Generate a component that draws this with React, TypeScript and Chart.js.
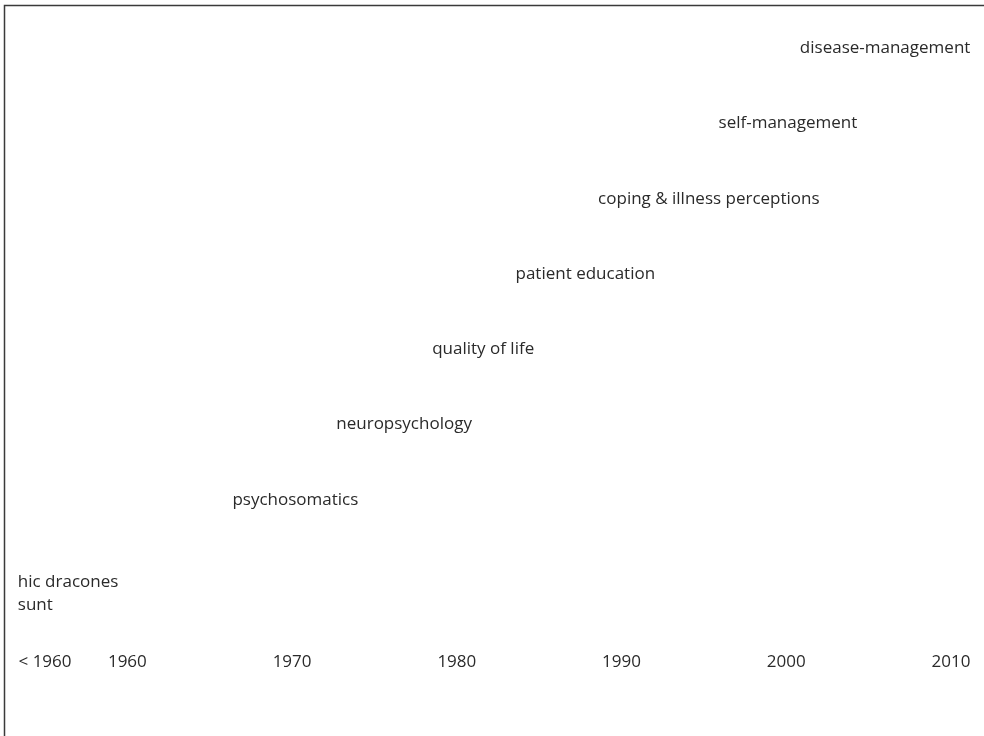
import React, { useEffect, useRef } from "react";
import { Chart, registerables } from "chart.js";

Chart.register(...registerables);

// Timeline topics (text), their approximate year (x) and level (y)
const topics: string[][] = [
  ["hic dracones", "sunt"],
  ["psychosomatics"],
  ["neuropsychology"],
  ["quality of life"],
  ["patient education"],
  ["coping & illness perceptions"],
  ["self-management"],
  ["disease-management"],
];
const topicYears: number[] = [1956.4, 1970.2, 1976.8, 1981.6, 1987.8, 1995.3, 2000.1, 2006];
const topicLevels: number[] = [-0.25, 1, 2, 3, 4, 5, 6, 7];

// x-axis tick positions and labels
const tickYears: number[] = [1955, 1960, 1970, 1980, 1990, 2000, 2010];
const tickLabels: string[] = ["< 1960", "1960", "1970", "1980", "1990", "2000", "2010"];

const FONT_FAMILY = "'Open Sans', sans-serif";
const TEXT_COLOR = "#2a2a2a";

const labelPlugin = {
  id: "topicLabels",
  afterDatasetsDraw(chart: any) {
    const ctx = chart.ctx;
    const meta = chart.getDatasetMeta(0);
    ctx.save();
    ctx.font = `17px ${FONT_FAMILY}`;
    ctx.fillStyle = TEXT_COLOR;
    ctx.textBaseline = "middle";
    const lineH = 23;
    meta.data.forEach((el: any, i: number) => {
      const lines = topics[i];
      const widths = lines.map((l) => ctx.measureText(l).width);
      const maxW = Math.max(...widths);
      const left = el.x - maxW / 2;
      const startY = el.y - ((lines.length - 1) * lineH) / 2;
      lines.forEach((l, j) => {
        ctx.textAlign = "left";
        const x = lines.length > 1 ? left : el.x - widths[j] / 2;
        ctx.fillText(l, x, startY + j * lineH);
      });
    });
    ctx.restore();
  },
  afterDraw(chart: any) {
    const ctx = chart.ctx;
    ctx.save();
    ctx.strokeStyle = "#3a3a3a";
    ctx.lineWidth = 1.5;
    ctx.beginPath();
    ctx.moveTo(4.5, chart.height);
    ctx.lineTo(4.5, 5.5);
    ctx.lineTo(chart.width, 5.5);
    ctx.stroke();
    ctx.restore();
  },
};

export default function App() {
  const ref = useRef<HTMLCanvasElement | null>(null);
  useEffect(() => {
    if (!ref.current) return;
    const chart = new Chart(ref.current, {
      type: "scatter",
      data: {
        datasets: [
          {
            data: topicYears.map((x, i) => ({ x, y: topicLevels[i] })),
            pointRadius: 0,
            pointHoverRadius: 0,
            showLine: false,
          },
        ],
      },
      options: {
        animation: false,
        responsive: false,
        events: [],
        layout: { padding: { left: 45, right: 33, top: 10.5, bottom: 61.3 } },
        plugins: { legend: { display: false }, tooltip: { enabled: false } },
        scales: {
          x: {
            type: "linear",
            min: 1955,
            max: 2010,
            grid: { display: false, drawTicks: false },
            border: { display: false },
            afterBuildTicks: (axis: any) => {
              axis.ticks = tickYears.map((v) => ({ value: v }));
            },
            ticks: {
              autoSkip: false,
              maxRotation: 0,
              padding: 2,
              color: TEXT_COLOR,
              font: { family: FONT_FAMILY, size: 17 },
              callback: (v: any) => {
                const i = tickYears.indexOf(Number(v));
                return i >= 0 ? tickLabels[i] : "";
              },
            },
          },
          y: {
            type: "linear",
            min: -1,
            max: 7.5,
            display: false,
          },
        },
      },
      plugins: [labelPlugin],
    });
    return () => chart.destroy();
  }, []);
  return (
    <div style={{ position: "absolute", left: 0, top: 0, width: 984, height: 736, background: "#fff" }}>
      <canvas ref={ref} width={984} height={736} style={{ width: 984, height: 736 }} />
    </div>
  );
}
